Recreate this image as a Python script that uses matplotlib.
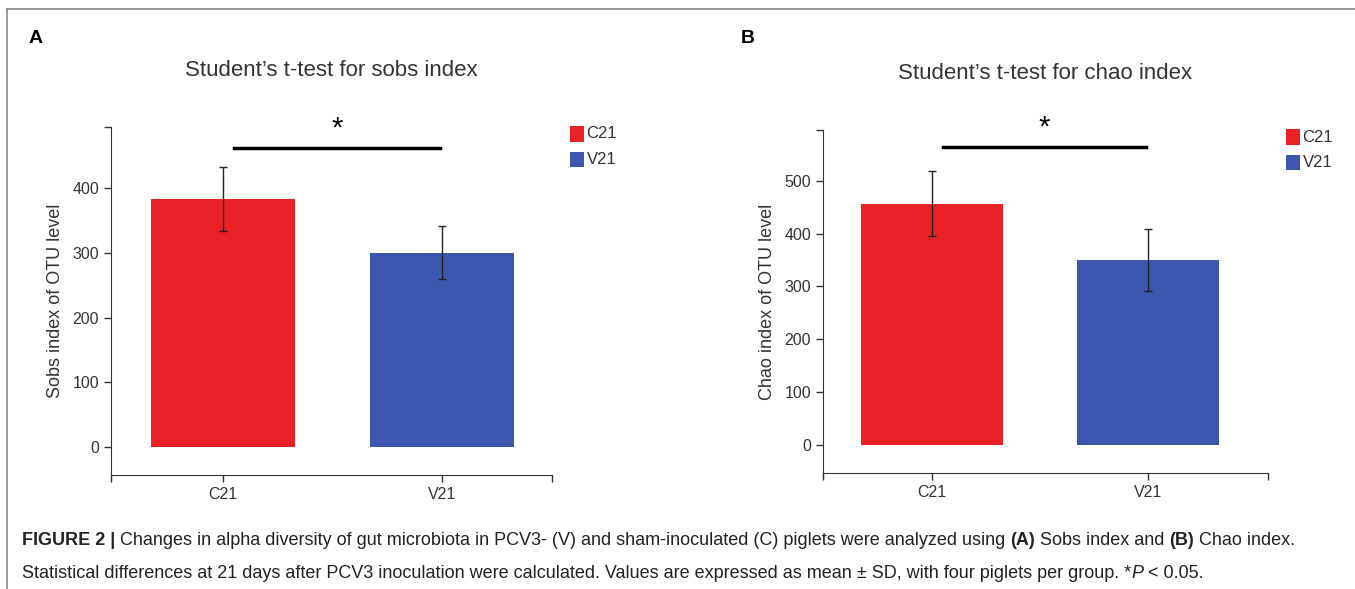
import matplotlib.pyplot as plt
from matplotlib.patches import Rectangle
from matplotlib.lines import Line2D

plt.rcParams['font.family'] = ['Liberation Sans', 'DejaVu Sans']

groups = ["C21", "V21"]
colors = ["#EA2228", "#3D56B0"]

sobs_mean = [383, 300]
sobs_sd = [49, 41]
chao_mean = [457, 350]
chao_sd = [62, 58]

panels = [
    dict(tag="A", title="Student\u2019s t-test for sobs index", ylabel="Sobs index of OTU level",
         mean=sobs_mean, sd=sobs_sd, yticks=[0, 100, 200, 300, 400], ylim=(-43, 494),
         xlim=(-0.511, 1.502), sig=462, rect=[0.0819, 0.1935, 0.3255, 0.591]),
    dict(tag="B", title="Student\u2019s t-test for chao index", ylabel="Chao index of OTU level",
         mean=chao_mean, sd=chao_sd, yticks=[0, 100, 200, 300, 400, 500], ylim=(-53, 596),
         xlim=(-0.505, 1.556), sig=564, rect=[0.6074, 0.1969, 0.3284, 0.5823]),
]

fig = plt.figure(figsize=(13.55, 5.89), dpi=100)
txt = "#333333"

for p in panels:
    ax = fig.add_axes(p["rect"])
    x = range(len(groups))
    ax.bar(x, p["mean"], width=0.66, color=colors, zorder=2)
    ax.errorbar(x, p["mean"], yerr=p["sd"], fmt="none", ecolor="#222222",
                elinewidth=1, capsize=3, capthick=1, zorder=3)
    ax.set_xlim(*p["xlim"])
    ax.set_ylim(*p["ylim"])
    ax.set_xticks(list(x))
    ax.set_xticklabels(groups)
    ax.set_yticks(p["yticks"])
    ax.set_xticks([p["xlim"][0], p["xlim"][1]], minor=True)
    ax.set_yticks([p["ylim"][1]], minor=True)
    ax.tick_params(which="both", length=5, width=1, color="#333333", labelsize=11.5, labelcolor=txt)
    for s in ["top", "right"]:
        ax.spines[s].set_visible(False)
    for s in ["left", "bottom"]:
        ax.spines[s].set_color("#333333")
    ax.spines["left"].set_bounds(p["ylim"][0] - (p["ylim"][1] - p["ylim"][0]) * 0.012, p["ylim"][1])
    ax.set_ylabel(p["ylabel"], fontsize=13, color=txt, labelpad=6)
    # significance bar
    ax.plot([0.05, 0.99], [p["sig"], p["sig"]], color="black", lw=2.5, clip_on=False)
    ax.text(0.52, p["sig"] + (p["ylim"][1] - p["ylim"][0]) * 0.015, "*", ha="center", va="bottom",
            fontsize=21, color="black")
    ax.set_title(p["title"], fontsize=16, color=txt, pad=37)
    # legend
    r = p["rect"]
    lx = r[0] + r[2] + 0.013
    for i, (g, c) in enumerate(zip(groups, colors)):
        ly = r[1] + r[3] - 0.025 - i * 0.043
        fig.patches.append(Rectangle((lx, ly), 0.0105, 0.026, transform=fig.transFigure,
                                     facecolor=c, edgecolor="none"))
        fig.text(lx + 0.0125, ly + 0.013, g, fontsize=12, va="center", color=txt)
    fig.text(r[0] - 0.061, 0.935, p["tag"], fontsize=14, fontweight="bold", va="center")

# frame lines
fig.add_artist(Line2D([7 / 1355, 1], [1 - 9 / 589, 1 - 9 / 589], color="#888888", lw=1.2))
fig.add_artist(Line2D([7 / 1355, 7 / 1355], [0, 1 - 9 / 589], color="#888888", lw=1.2))

# caption built piece by piece
caption1 = [("FIGURE 2 | ", "b"),
            ("Changes in alpha diversity of gut microbiota in PCV3- (V) and sham-inoculated (C) piglets were analyzed using ", "n"),
            ("(A)", "b"), (" Sobs index and ", "n"), ("(B)", "b"), (" Chao index.", "n")]
caption2 = [("Statistical differences at 21 days after PCV3 inoculation were calculated. Values are expressed as mean \u00b1 SD, with four piglets per group. *", "n"),
            ("P", "i"), (" < 0.05.", "n")]


def place(parts, x, y):
    prev = None
    for s, style in parts:
        kw = dict(fontsize=13, color="#222222")
        if style == "b":
            kw["fontweight"] = "bold"
        elif style == "i":
            kw["fontstyle"] = "italic"
        if prev is None:
            prev = fig.text(x, y, s, va="bottom", ha="left", **kw)
        else:
            prev = fig.text(0, 0, s, va="bottom", ha="left", **kw)
            prev.remove()
            prev = plt.annotate(s, xy=(1, 0), xycoords=last, xytext=(0, 0),
                                textcoords="offset points", va="bottom", ha="left",
                                annotation_clip=False, **kw)
        last = prev


place(caption1, 22 / 1355, 1 - 549 / 589)
place(caption2, 22 / 1355, 1 - 582 / 589)

fig.savefig("out.png", dpi=100)
